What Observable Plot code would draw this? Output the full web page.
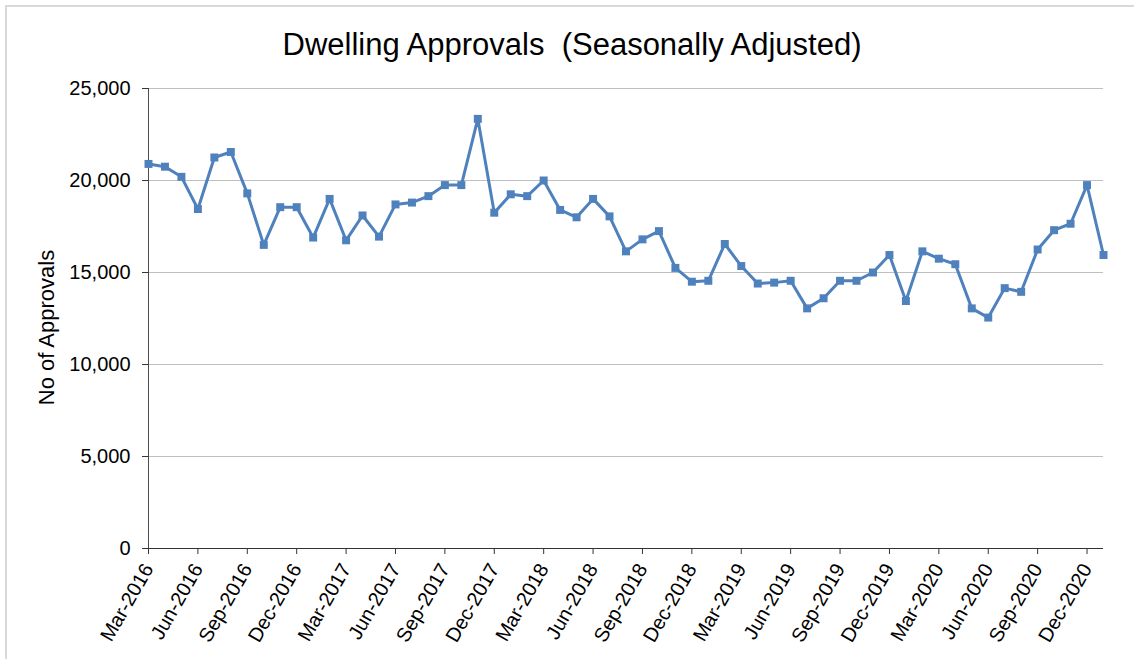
<!DOCTYPE html>
<html>
<head>
<meta charset="utf-8">
<script src="https://cdn.jsdelivr.net/npm/d3@7"></script>
<script src="https://cdn.jsdelivr.net/npm/@observablehq/plot@0.6"></script>
<style>
  html, body { margin: 0; padding: 0; background: #fff; overflow: hidden; }
  #chart { position: relative; width: 1134px; height: 659px; overflow: hidden;
           font-family: "Liberation Sans", Arial, sans-serif; }
  #border { position: absolute; left: 5px; top: 5px; width: 1200px; height: 700px;
            border: 2px solid #d9d9d9; box-sizing: border-box; }
  #chart svg { position: absolute; left: 0; top: 0; }
</style>
</head>
<body>
<div id="chart"><div id="border"></div></div>
<script>
// Monthly categories, Mar-2016 through Jan-2021
const fmtMonth = d3.utcFormat("%b-%Y");
const months = d3.utcMonths(new Date(Date.UTC(2016, 2, 1)), new Date(Date.UTC(2021, 1, 1))).map(fmtMonth);

// Dwelling approvals, seasonally adjusted (number of approvals per month)
const approvals = [
  20900, 20750, 20200, 18450, 21250, 21550, 19300, 16500, 18550, 18550,
  16900, 19000, 16750, 18100, 16950, 18700, 18800, 19150, 19750, 19750,
  23350, 18250, 19250, 19150, 20000, 18400, 18000, 19000, 18050, 16150,
  16800, 17250, 15250, 14500, 14550, 16550, 15350, 14400, 14450, 14550,
  13050, 13600, 14550, 14550, 15000, 15950, 13450, 16150, 15750, 15450,
  13050, 12550, 14150, 13950, 16250, 17300, 17650, 19750, 15950
];

// Quarterly category labels shown on the x axis
const xTicks = [
  "Mar-2016", "Jun-2016", "Sep-2016", "Dec-2016",
  "Mar-2017", "Jun-2017", "Sep-2017", "Dec-2017",
  "Mar-2018", "Jun-2018", "Sep-2018", "Dec-2018",
  "Mar-2019", "Jun-2019", "Sep-2019", "Dec-2019",
  "Mar-2020", "Jun-2020", "Sep-2020", "Dec-2020"
];
const yTicks = [0, 5000, 10000, 15000, 20000, 25000];

const titleText = "Dwelling Approvals\u00a0 (Seasonally Adjusted)";
const yLabel = "No of Approvals";

const data = months.map((month, i) => ({month, value: approvals[i]}));
const blue = "#4f81bd";

const chart = Plot.plot({
  width: 1134,
  height: 659,
  marginLeft: 148,
  marginRight: 31,
  marginTop: 88,
  marginBottom: 111,
  style: {fontFamily: "'Liberation Sans', Arial, sans-serif", color: "#000", background: "transparent"},
  x: {type: "point", domain: months, padding: 0, inset: 0, round: false},
  y: {domain: [0, 25000]},
  marks: [
    Plot.gridY(yTicks.filter(d => d > 0), {stroke: "#bfbfbf", strokeOpacity: 1}),
    Plot.ruleX([months[0]], {y1: 0, y2: 25000, stroke: "#4d4d4d"}),
    Plot.ruleY([0], {stroke: "#333"}),
    Plot.axisY({ticks: yTicks, tickFormat: d3.format(","), tickSize: 6, tickPadding: 12,
                fontSize: 20, label: null, stroke: "#333"}),
    Plot.axisX({ticks: xTicks, tickRotate: -60, tickSize: 6, tickPadding: 11,
                fontSize: 20, label: null, stroke: "#333"}),
    Plot.line(data, {x: "month", y: "value", stroke: blue, strokeWidth: 3}),
    Plot.dot(data, {x: "month", y: "value", symbol: "square", r: 4.5, fill: blue, stroke: "none"}),
    Plot.text([titleText], {frameAnchor: "top", lineAnchor: "middle", textAnchor: "middle",
                            dx: -54, dy: -43, fontSize: 31}),
    Plot.text([yLabel], {frameAnchor: "left", lineAnchor: "middle", textAnchor: "middle",
                         rotate: -90, dx: -102, dy: 9, fontSize: 22})
  ]
});
document.getElementById("chart").appendChild(chart);
</script>
</body>
</html>
